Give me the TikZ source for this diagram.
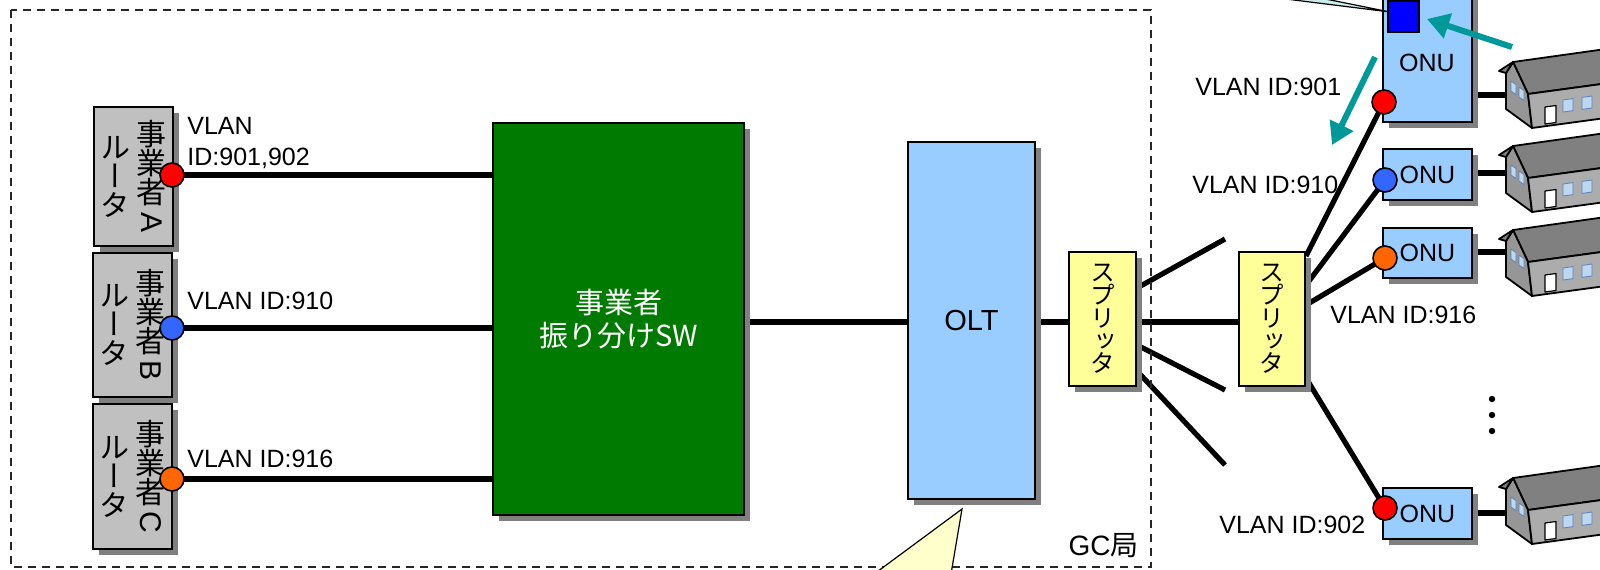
\documentclass[tikz,border=0pt]{standalone}
\usepackage{fontspec}
\usepackage{graphicx}
\setmainfont{Liberation Sans}
\newfontfamily\jp{Noto Sans CJK JP}
\newfontfamily\jpv[RawFeature=+vert]{Noto Sans CJK JP}
\usetikzlibrary{shadows,arrows.meta}
\pgfdeclarelayer{links}
\pgfsetlayers{links,main}

\definecolor{routerfill}{RGB}{192,192,192}
\definecolor{swgreen}{RGB}{0,122,0}
\definecolor{paleblue}{RGB}{153,204,255}
\definecolor{paleyellow}{RGB}{255,255,153}
\definecolor{dotred}{RGB}{255,0,0}
\definecolor{dotblue}{RGB}{51,102,255}
\definecolor{dotorange}{RGB}{255,102,0}
\definecolor{arrowteal}{RGB}{0,153,153}
\definecolor{calloutcyan}{RGB}{200,238,238}
\definecolor{calloutyellow}{RGB}{255,255,204}
\definecolor{roofgray}{RGB}{128,128,128}
\definecolor{gablegray}{RGB}{150,150,150}
\definecolor{wallgray}{RGB}{172,172,172}
\definecolor{windowblue}{RGB}{190,215,240}
\definecolor{windowedge}{RGB}{90,130,190}

% vertical (tategaki) column: rows at a fixed pitch, centred on the axis
\newcommand{\vstack}[2]{$\vcenter{\baselineskip=#1\relax\lineskiplimit=-\maxdimen\lineskip=0pt
  \halign{\hfil##\hfil\cr#2\crcr}}$}
\newcommand{\routerlabel}[1]{{\jpv\fontsize{15}{15}\selectfont
  \vstack{14.5pt}{ル\cr ー\cr タ\cr}\hspace{3pt}%
  \vstack{14.5pt}{事\cr 業\cr 者\cr \rotatebox[origin=c]{-90}{\rmfamily #1}\cr}}}
\newcommand{\splitterlabel}{{\jpv\fontsize{12.5}{12.5}\selectfont
  \vstack{11.4pt}{ス\cr プ\cr リ\cr ッ\cr タ\cr}}}

\tikzset{
  dims/.style 2 args={minimum width=#1,minimum height=#2},
  shadowed/.style={drop shadow={shadow xshift=2.75pt,shadow yshift=-2.75pt,fill=black!50,opacity=1}},
  unit/.style={rectangle,draw=black,line width=1pt,inner sep=0pt,shadowed},
  routerbox/.style={unit,fill=routerfill},
  swbox/.style={unit,fill=swgreen,text=white,align=center,font=\jp\fontsize{14.5}{16.5}\selectfont},
  oltbox/.style={unit,fill=paleblue,font=\fontsize{14.5}{17}\selectfont},
  splitbox/.style={unit,fill=paleyellow},
  onubox/.style={unit,fill=paleblue,font=\fontsize{12.5}{14}\selectfont},
  port/.style={circle,draw=black,line width=0.8pt,minimum size=12pt,inner sep=0pt},
  link/.style={line width=2.6pt,draw=black},
  vlan/.style={font=\fontsize{12.5}{15.5}\selectfont,inner sep=0pt},
  pointer/.style={draw=arrowteal,line width=3pt,-{Triangle[length=11pt,width=12.5pt]}},
  gcframe/.style={draw=black!85,line width=0.9pt,dash pattern=on 4pt off 3pt},
  callout/.style={draw=black,line width=0.6pt},
  house/.pic={
    \begin{scope}[line width=0.9pt,line join=round,draw=black]
      \filldraw[fill=roofgray] (0,0) -- (100,-14) -- (118,18) -- (15,32) -- cycle;
      \filldraw[fill=gablegray] (-7,11) -- (0,0) -- (15,32) -- (19,66) -- (-7,47) -- cycle;
      \filldraw[fill=roofgray] (0,0) -- (-14,9) -- (-7,11) -- cycle;
      \filldraw[fill=wallgray] (15,32) -- (118,18) -- (122,52) -- (19,66) -- cycle;
      \filldraw[fill=white,line width=0.6pt] (32,45) -- (43,43.5) -- (43,60.5) -- (32,62) -- cycle;
      \filldraw[fill=windowblue,draw=windowedge,line width=0.4pt]
        (50,38) -- (60,36.6) -- (60,48.6) -- (50,50) -- cycle
        (69,35.4) -- (79,34) -- (79,46) -- (69,47.4) -- cycle
        (-2,19) -- (3,22.6) -- (3,32.6) -- (-2,29) -- cycle
        (6,25) -- (11,28.6) -- (11,38.6) -- (6,35) -- cycle;
    \end{scope}
    \coordinate (-wall) at (-7,30);
  }
}

\begin{document}
\begin{tikzpicture}[x=0.5pt,y=-0.5pt]
\useasboundingbox (0,0) rectangle (1600,569);
\clip (0,0) rectangle (1600,569);

% GC building frame
\draw[gcframe] (11,10) rectangle (1151,567);
\node[anchor=base east,inner sep=0pt,font=\fontsize{14}{16}\selectfont] (gc) at (1139,555) {GC{\jp 局}};

% operator routers
\node[routerbox,dims={39.5pt}{69.5pt}] (ra) at (133.5,176.5) {\routerlabel{A}};
\node[routerbox,dims={39.5pt}{72pt}] (rb) at (132.5,325) {\routerlabel{B}};
\node[routerbox,dims={39.5pt}{72.5pt}] (rc) at (132.5,476.5) {\routerlabel{C}};

% distribution switch, OLT, splitters
\node[swbox,dims={125.5pt}{196pt}] (sw) at (618.5,319) {事業者\\振り分けSW};
\node[oltbox,dims={63.5pt}{178.5pt}] (olt) at (971.5,320.5) {OLT};
\node[splitbox,dims={33.5pt}{67pt}] (s1) at (1102.5,319) {\splitterlabel};
\node[splitbox,dims={33pt}{67pt}] (s2) at (1272,319) {\splitterlabel};

% ONUs
\node[onubox,dims={44.5pt}{76pt}] (onu1) at (1427.5,46) {};
\node[font=\fontsize{12.5}{14}\selectfont,inner sep=0pt] (onu1t) at (1427,63) {ONU};
\node[onubox,dims={44.5pt}{25.5pt}] (onu2) at (1427.5,174.5) {ONU};
\node[onubox,dims={44.5pt}{25pt}] (onu3) at (1427.5,253) {ONU};
\node[onubox,dims={44.5pt}{25.5pt}] (onu4) at (1427.5,513.5) {ONU};

% ports
\node[port,fill=dotred] (pa) at (172,175) {};
\node[port,fill=dotblue] (pb) at (172,328) {};
\node[port,fill=dotorange] (pc) at (172,479) {};
\node[port,fill=dotred] (po1) at (1384,102) {};
\node[port,fill=dotblue] (po2) at (1385,180) {};
\node[port,fill=dotorange] (po3) at (1385,258) {};
\node[port,fill=dotred] (po4) at (1385,508) {};

% houses
\pic (h1) at (1513,62) {house};
\pic (h2) at (1513,146) {house};
\pic (h3) at (1513,230) {house};
\pic (h4) at (1513,478) {house};

% more subscribers
\foreach \yy in {399,415,431} \fill (1492,\yy) circle (1.6pt);

% fibre and Ethernet links
\coordinate (f1) at (1225,239);
\coordinate (f2) at (1225,390);
\coordinate (f3) at (1225,465);
\begin{pgfonlayer}{links}
  \draw[link] (pa.center) -- (sw.west |- pa.center);
  \draw[link] (pb.center) -- (sw.west |- pb.center);
  \draw[link] (pc.center) -- (sw.west |- pc.center);
  \draw[link] (sw.east |- 0,322) -- (olt.west |- 0,322);
  \draw[link] (olt.east |- 0,322) -- (s1.west |- 0,322);
  \draw[link] (s1.east |- 0,322) -- (s2.west |- 0,322);
  \draw[link] (s1.east |- 0,288) -- (f1);
  \draw[link] (s1.east |- 0,345) -- (f2);
  \draw[link] (s1.east |- 0,371) -- (f3);
  \draw[link] (s2.east |- 0,256) -- (po1.center);
  \draw[link] (s2.east |- 0,285) -- (po2.center);
  \draw[link] (s2.east |- 0,305) -- (po3.center);
  \draw[link] (s2.east |- 0,378) -- (po4.center);
  \draw[link] (onu1.east |- 0,95) -- (h1-wall |- 0,95);
  \draw[link] (onu2.east |- 0,173) -- (h2-wall |- 0,173);
  \draw[link] (onu3.east |- 0,252) -- (h3-wall |- 0,252);
  \draw[link] (onu4.east |- 0,513) -- (h4-wall |- 0,513);
\end{pgfonlayer}

% VLAN labels
\node[vlan,anchor=north west,align=left] (la) at (187,117) {VLAN\\ID:901,902};
\node[vlan,anchor=base west] (lb) at (187,309) {VLAN ID:910};
\node[vlan,anchor=base west] (lc) at (187,467) {VLAN ID:916};
\node[vlan,anchor=base west] (l901) at (1195,95) {VLAN ID:901};
\node[vlan,anchor=base west] (l910) at (1192,193) {VLAN ID:910};
\node[vlan,anchor=base west] (l916) at (1330,323) {VLAN ID:916};
\node[vlan,anchor=base west] (l902) at (1219,533) {VLAN ID:902};

% callouts
\filldraw[callout,fill=calloutcyan] (1214,-10) -- (1390,12) -- (1281,-10) -- cycle;
\node[draw=black,fill=blue,line width=0.8pt,inner sep=0pt,minimum size=15.5pt] (sq) at (1403.5,16.5) {};
\filldraw[callout,fill=calloutyellow] (962,509) -- (866,580) -- (950,580) -- cycle;

% traffic direction arrows
\coordinate (a1s) at (1512,47);
\coordinate (a1e) at (1427,19);
\coordinate (a2s) at (1375,57);
\coordinate (a2e) at (1332,145);
\draw[pointer] (a1s) -- (a1e);
\draw[pointer] (a2s) -- (a2e);
\end{tikzpicture}
\end{document}
